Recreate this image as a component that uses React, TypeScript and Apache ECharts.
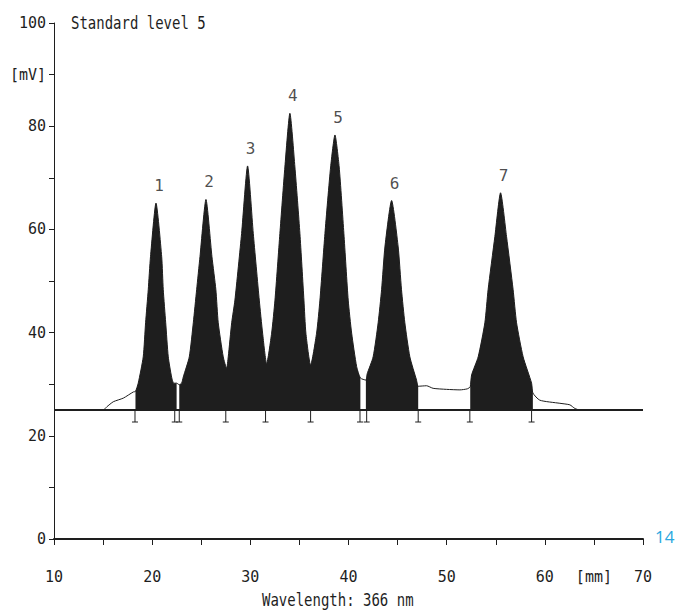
import React, { useEffect, useRef } from "react";
import * as echarts from "echarts";

// Detector trace: [position mm, signal mV]
const traceX = [
  10, 15.02, 15.37, 16.04, 17.06, 18.08, 18.3,
  18.58, 19.09, 19.33, 19.6, 19.83, 20.39, 20.97, 21.13, 21.38, 21.64, 21.98, 22.2, 22.49,
  22.76, 23.0, 23.17, 23.78, 24.19, 24.53, 24.87, 25.48, 26.09, 26.49, 26.73, 27.24, 27.58,
  27.75, 28.1, 28.43, 29.11, 29.72, 30.3, 30.91, 31.25, 31.66,
  32.17, 32.51, 33.01, 33.52, 34.03, 34.54, 35.05, 35.46, 35.66, 36.14,
  36.75, 37.09, 37.6, 38.18, 38.62, 39.05, 39.53, 39.97, 40.32, 40.83, 41.21,
  41.77, 41.9, 42.51, 43.02, 43.37, 43.71, 44.39, 45.06, 45.4, 45.74, 46.25, 46.93, 47.1,
  47.95, 48.62, 49.99, 51.35, 52.1,
  52.4, 52.54, 53.21, 53.89, 54.22, 54.91, 55.49, 56.1, 56.77, 57.12, 57.79, 58.65, 58.78,
  59.49, 61.53, 62.55, 63.06, 63.56, 70,
];
const traceY = [
  25, 25.0, 25.6, 26.6, 27.3, 28.5, 28.6,
  30.2, 35.3, 41.9, 48.3, 54.7, 65.1, 54.7, 48.3, 41.9, 35.3, 31.4, 30.2, 30.2,
  29.9, 30.2, 31.4, 35.3, 41.9, 48.3, 54.7, 65.8, 54.7, 48.3, 41.9, 35.3, 33.1,
  35.3, 41.9, 46.3, 59.2, 72.3, 59.2, 46.3, 39.9, 34.0,
  39.9, 46.3, 59.2, 72.1, 82.5, 72.1, 59.2, 46.3, 39.9, 33.7,
  39.9, 46.3, 59.2, 72.1, 78.3, 72.1, 59.2, 46.3, 39.9, 33.4, 31.2,
  30.8, 32.0, 35.3, 41.9, 48.3, 56.6, 65.6, 56.6, 48.3, 41.9, 35.3, 30.8, 29.6,
  29.7, 29.2, 29.0, 28.9, 29.1,
  29.5, 31.8, 35.3, 41.9, 48.3, 58.6, 67.1, 58.6, 48.3, 41.9, 35.3, 30.2, 28.3,
  26.9, 26.3, 26.0, 25.3, 25.0, 25,
];

// Integrated (filled) windows
const fillStarts = [18.3, 22.76, 41.77, 52.4];
const fillEnds = [22.49, 41.21, 47.1, 58.78];

// Baseline level
const baseline = [25];

// Integration markers under the baseline
const markerX = [18.25, 22.3, 22.76, 27.5, 31.55, 36.14, 41.17, 41.85, 47.1, 52.36, 58.65];

// Peak numbering
const peakX = [20.39, 25.48, 29.72, 34.03, 38.62, 44.39, 55.49];
const peakY = [65.1, 65.8, 72.3, 82.5, 78.3, 65.6, 67.1];
const peakLabels = ["1", "2", "3", "4", "5", "6", "7"];

const FONT = '"DejaVu Sans Mono", "Liberation Mono", monospace';
const INK = "#1e1e1e";
const SMOOTH = 0.2;

export default function App() {
  const ref = useRef<HTMLDivElement>(null);
  useEffect(() => {
    document.body.style.margin = "0";
    const chart = echarts.init(ref.current!, null, { renderer: "svg" });
    const trace = traceX.map((x, i) => [x, traceY[i]]);
    const fills = fillStarts.map((s, k) => ({
      type: "line",
      data: trace.filter((p) => p[0] >= s && p[0] <= fillEnds[k]),
      showSymbol: false,
      symbol: "none",
      smooth: SMOOTH,
      lineStyle: { width: 0 },
      areaStyle: { color: INK, opacity: 1, origin: baseline[0] },
      silent: true,
      z: 2,
    }));
    chart.setOption({
      animation: false,
      grid: { left: 54, right: 33, top: 23, bottom: 73 },
      xAxis: {
        type: "value",
        min: 10,
        max: 70,
        interval: 5,
        axisLine: { show: true, lineStyle: { color: INK, width: 2 } },
        axisTick: { show: true, length: 6, lineStyle: { color: INK, width: 1 } },
        axisLabel: {
          margin: 30,
          color: INK,
          fontFamily: FONT,
          fontSize: 15,
          showMinLabel: true,
          showMaxLabel: true,
          formatter: (v: number) => (v % 10 === 0 ? String(v) : v === 65 ? "[mm]" : ""),
        },
        splitLine: { show: false },
      },
      yAxis: {
        type: "value",
        min: 0,
        max: 100,
        interval: 10,
        axisLine: { show: true, lineStyle: { color: INK, width: 1 } },
        axisTick: { show: true, length: 5, lineStyle: { color: INK, width: 1 } },
        axisLabel: {
          margin: 8,
          color: INK,
          fontFamily: FONT,
          fontSize: 15,
          formatter: (v: number) => (v === 90 ? "[mV]" : v % 20 === 0 ? String(v) : ""),
        },
        splitLine: { show: false },
      },
      series: [
        ...fills,
        {
          type: "line",
          data: trace,
          showSymbol: false,
          symbol: "none",
          smooth: SMOOTH,
          lineStyle: { color: INK, width: 1 },
          z: 3,
          markLine: {
            silent: true,
            symbol: "none",
            label: { show: false },
            lineStyle: { color: INK, width: 2, type: "solid" },
            data: [{ yAxis: baseline[0] }],
          },
        },
        {
          type: "custom",
          data: markerX.map((x) => [x, baseline[0]]),
          z: 4,
          renderItem: (params: any, api: any) => {
            const p = api.coord([api.value(0), api.value(1)]);
            const st = { stroke: INK, lineWidth: 1 };
            return {
              type: "group",
              children: [
                { type: "line", shape: { x1: p[0], y1: p[1], x2: p[0], y2: p[1] + 12 }, style: st },
                { type: "line", shape: { x1: p[0] - 3, y1: p[1] + 12, x2: p[0] + 3, y2: p[1] + 12 }, style: st },
              ],
            };
          },
        },
        {
          type: "scatter",
          data: peakX.map((x, i) => ({ value: [x, peakY[i]], name: peakLabels[i] })),
          symbolSize: 1,
          itemStyle: { color: "rgba(0,0,0,0)" },
          label: {
            show: true,
            position: "top",
            distance: 9,
            offset: [3, 0],
            formatter: (p: any) => p.name,
            color: INK,
            fontFamily: FONT,
            fontSize: 16,
          },
          z: 5,
        },
      ],
      graphic: [
        {
          type: "text",
          x: 71,
          y: 14,
          scaleY: 1.3,
          style: { text: "Standard level 5", fill: INK, font: `14px ${FONT}` },
        },
        {
          type: "text",
          x: 262,
          y: 591,
          scaleY: 1.3,
          style: { text: "Wavelength: 366 nm", fill: INK, font: `14px ${FONT}` },
        },
        {
          type: "text",
          x: 655,
          y: 528,
          style: { text: "14", fill: "#2aa8e0", font: '17px "Open Sans", sans-serif' },
        },
      ],
    });
    return () => chart.dispose();
  }, []);
  return <div ref={ref} style={{ width: 676, height: 612 }} />;
}
